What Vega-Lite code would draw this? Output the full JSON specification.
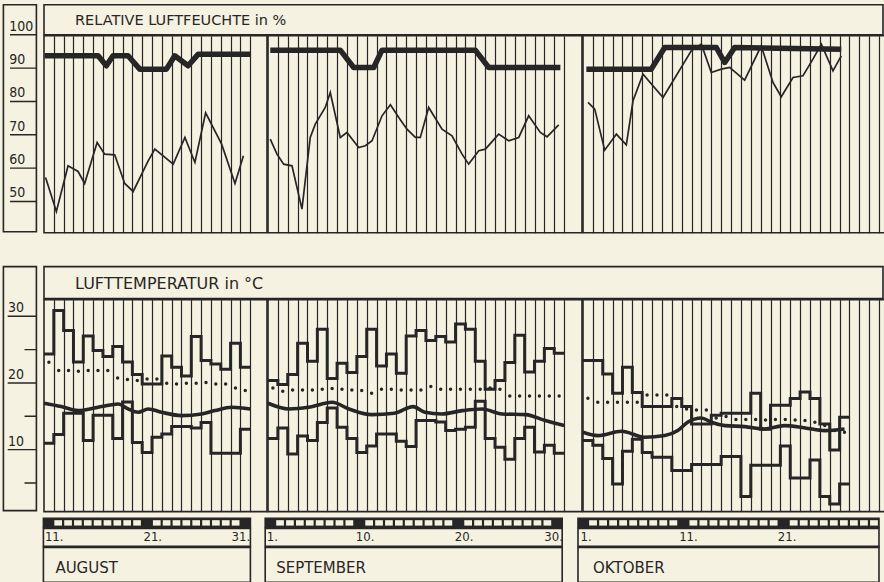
{
 "$schema": "https://vega.github.io/schema/vega-lite/v6.json",
 "background": "#f6f2e1",
 "padding": {"left": 2.4, "top": 3.8, "right": 0, "bottom": 0},
 "config": {
  "view": {"stroke": "#262626", "strokeWidth": 1.6},
  "axis": {"gridOpacity": 1},
  "text": {"color": "#262626"}
 },
 "datasets": {
  "hticks": [{"v":100,"lab":"100"},{"v":90,"lab":"90"},{"v":80,"lab":"80"},{"v":70,"lab":"70"},{"v":60,"lab":"60"},{"v":50,"lab":"50"}],
  "tticks": [{"v":30,"lab":"30","kind":"major"},{"v":25,"lab":"","kind":"minor"},{"v":20,"lab":"20","kind":"major"},{"v":15,"lab":"","kind":"minor"},{"v":10,"lab":"10","kind":"major"},{"v":5,"lab":"","kind":"minor"}],
  "hmean": [
   {"m":"Aug","t":11.06,"rh":94},{"m":"Aug","t":16.51,"rh":94},{"m":"Aug","t":17.35,"rh":91},{"m":"Aug","t":18.03,"rh":94},{"m":"Aug","t":19.56,"rh":94},{"m":"Aug","t":20.75,"rh":90},{"m":"Aug","t":23.47,"rh":90},{"m":"Aug","t":24.32,"rh":94},{"m":"Aug","t":25.68,"rh":91},{"m":"Aug","t":26.71,"rh":94.5},{"m":"Aug","t":31.98,"rh":94.5},
   {"m":"Sep","t":1.23,"rh":95.7},{"m":"Sep","t":8.32,"rh":95.7},{"m":"Sep","t":9.68,"rh":90.5},{"m":"Sep","t":11.71,"rh":90.5},{"m":"Sep","t":12.55,"rh":95.7},{"m":"Sep","t":22.0,"rh":95.7},{"m":"Sep","t":23.36,"rh":90.5},{"m":"Sep","t":30.62,"rh":90.5},
   {"m":"Okt","t":1.34,"rh":90},{"m":"Okt","t":7.92,"rh":90},{"m":"Okt","t":9.28,"rh":96.5},{"m":"Okt","t":14.51,"rh":96.5},{"m":"Okt","t":15.36,"rh":92},{"m":"Okt","t":16.37,"rh":96.5},{"m":"Okt","t":27.17,"rh":96}
  ],
  "hday": [
   {"m":"Aug","t":11.16,"rh":57.5},{"m":"Aug","t":12.26,"rh":47.3},{"m":"Aug","t":13.45,"rh":61},{"m":"Aug","t":14.47,"rh":59.3},{"m":"Aug","t":15.14,"rh":55.7},{"m":"Aug","t":16.41,"rh":68},{"m":"Aug","t":17.18,"rh":64.5},{"m":"Aug","t":18.2,"rh":64.3},{"m":"Aug","t":19.22,"rh":55.7},{"m":"Aug","t":20.08,"rh":53.3},{"m":"Aug","t":21.61,"rh":62.5},{"m":"Aug","t":22.29,"rh":66},{"m":"Aug","t":24.16,"rh":61.5},{"m":"Aug","t":25.35,"rh":69.5},{"m":"Aug","t":26.37,"rh":62},{"m":"Aug","t":27.46,"rh":76.9},{"m":"Aug","t":29.09,"rh":67.5},{"m":"Aug","t":30.45,"rh":55.7},{"m":"Aug","t":31.31,"rh":64},
   {"m":"Sep","t":1.23,"rh":69},{"m":"Sep","t":1.91,"rh":64.5},{"m":"Sep","t":2.59,"rh":61.5},{"m":"Sep","t":3.43,"rh":61},{"m":"Sep","t":4.44,"rh":48},{"m":"Sep","t":5.28,"rh":69.5},{"m":"Sep","t":5.79,"rh":73.5},{"m":"Sep","t":6.8,"rh":78.5},{"m":"Sep","t":7.31,"rh":83},{"m":"Sep","t":8.32,"rh":69.5},{"m":"Sep","t":9.0,"rh":71},{"m":"Sep","t":10.19,"rh":66.5},{"m":"Sep","t":10.86,"rh":67},{"m":"Sep","t":11.54,"rh":68.5},{"m":"Sep","t":12.55,"rh":76},{"m":"Sep","t":13.4,"rh":79.3},{"m":"Sep","t":14.25,"rh":75.5},{"m":"Sep","t":15.08,"rh":72},{"m":"Sep","t":15.93,"rh":69.5},{"m":"Sep","t":16.43,"rh":69.5},{"m":"Sep","t":17.28,"rh":78.5},{"m":"Sep","t":18.63,"rh":72},{"m":"Sep","t":19.64,"rh":70},{"m":"Sep","t":20.66,"rh":64.5},{"m":"Sep","t":21.33,"rh":61.5},{"m":"Sep","t":22.35,"rh":65.5},{"m":"Sep","t":23.02,"rh":66},{"m":"Sep","t":24.37,"rh":70.5},{"m":"Sep","t":25.38,"rh":68.5},{"m":"Sep","t":26.4,"rh":69.5},{"m":"Sep","t":27.41,"rh":76},{"m":"Sep","t":28.59,"rh":71},{"m":"Sep","t":29.27,"rh":69.7},{"m":"Sep","t":30.45,"rh":73.3},
   {"m":"Okt","t":1.51,"rh":80},{"m":"Okt","t":2.19,"rh":78},{"m":"Okt","t":3.2,"rh":65.7},{"m":"Okt","t":4.38,"rh":70.5},{"m":"Okt","t":5.39,"rh":67.3},{"m":"Okt","t":6.07,"rh":80.5},{"m":"Okt","t":7.08,"rh":88.5},{"m":"Okt","t":9.11,"rh":81.5},{"m":"Okt","t":11.97,"rh":95.5},{"m":"Okt","t":12.99,"rh":97.5},{"m":"Okt","t":14.0,"rh":89},{"m":"Okt","t":15.01,"rh":90},{"m":"Okt","t":15.86,"rh":90.5},{"m":"Okt","t":17.38,"rh":86.7},{"m":"Okt","t":19.06,"rh":97},{"m":"Okt","t":20.25,"rh":86},{"m":"Okt","t":21.09,"rh":81.7},{"m":"Okt","t":22.28,"rh":87.5},{"m":"Okt","t":23.29,"rh":88},{"m":"Okt","t":24.3,"rh":93},{"m":"Okt","t":25.15,"rh":97.5},{"m":"Okt","t":26.33,"rh":89.5},{"m":"Okt","t":27.17,"rh":94}
  ],
  "temp": [
   {"m":"Aug","d":11,"hi":24.5,"lo":11.1,"dot":23.25},{"m":"Aug","d":12,"hi":31,"lo":12.4,"dot":22},{"m":"Aug","d":13,"hi":28,"lo":15.6,"dot":22},{"m":"Aug","d":14,"hi":23.3,"lo":15.6,"dot":21.9},{"m":"Aug","d":15,"hi":27.2,"lo":11.5,"dot":22},{"m":"Aug","d":16,"hi":25,"lo":15.3,"dot":22},{"m":"Aug","d":17,"hi":24.1,"lo":15.3,"dot":22},{"m":"Aug","d":18,"hi":25.6,"lo":11.8,"dot":20.9},{"m":"Aug","d":19,"hi":23.3,"lo":17.3,"dot":20.65},{"m":"Aug","d":20,"hi":21.4,"lo":11.2,"dot":20.5},{"m":"Aug","d":21,"hi":20,"lo":9.7,"dot":20.75},{"m":"Aug","d":22,"hi":20,"lo":12,"dot":20.75},{"m":"Aug","d":23,"hi":24.2,"lo":12.5,"dot":20.1},{"m":"Aug","d":24,"hi":22.5,"lo":13.6,"dot":20},{"m":"Aug","d":25,"hi":21.2,"lo":13.6,"dot":20.1},{"m":"Aug","d":26,"hi":27.1,"lo":13.4,"dot":20.1},{"m":"Aug","d":27,"hi":23.5,"lo":14.2,"dot":20.2},{"m":"Aug","d":28,"hi":23,"lo":9.6,"dot":20},{"m":"Aug","d":29,"hi":22.2,"lo":9.6,"dot":20},{"m":"Aug","d":30,"hi":26.1,"lo":9.6,"dot":19.4},{"m":"Aug","d":31,"hi":22.5,"lo":13.2,"dot":19},{"m":"Aug","d":32,"hi":22.5,"lo":13.2,"dot":null},
   {"m":"Sep","d":1,"hi":20.5,"lo":11.8,"dot":19.4},{"m":"Sep","d":2,"hi":19.9,"lo":13.4,"dot":18.9},{"m":"Sep","d":3,"hi":21.4,"lo":9.5,"dot":19.1},{"m":"Sep","d":4,"hi":26.1,"lo":12.2,"dot":19.1},{"m":"Sep","d":5,"hi":23.4,"lo":11.5,"dot":19.1},{"m":"Sep","d":6,"hi":28.2,"lo":14.2,"dot":19.2},{"m":"Sep","d":7,"hi":20.8,"lo":16.4,"dot":19.3},{"m":"Sep","d":8,"hi":23.1,"lo":13.5,"dot":19.2},{"m":"Sep","d":9,"hi":21.7,"lo":11.8,"dot":19.1},{"m":"Sep","d":10,"hi":24.1,"lo":9.7,"dot":19},{"m":"Sep","d":11,"hi":28.2,"lo":10.7,"dot":18.6},{"m":"Sep","d":12,"hi":22.7,"lo":12.5,"dot":19.2},{"m":"Sep","d":13,"hi":24.5,"lo":12.5,"dot":19.2},{"m":"Sep","d":14,"hi":21.6,"lo":11.4,"dot":19.1},{"m":"Sep","d":15,"hi":27.2,"lo":10.6,"dot":19.1},{"m":"Sep","d":16,"hi":28,"lo":14.5,"dot":19.1},{"m":"Sep","d":17,"hi":26.5,"lo":14.5,"dot":19.6},{"m":"Sep","d":18,"hi":27.1,"lo":14.3,"dot":19.2},{"m":"Sep","d":19,"hi":26.3,"lo":13,"dot":19.2},{"m":"Sep","d":20,"hi":29,"lo":13.2,"dot":19.2},{"m":"Sep","d":21,"hi":28.2,"lo":13.5,"dot":19.2},{"m":"Sep","d":22,"hi":23.4,"lo":17.4,"dot":19.2},{"m":"Sep","d":23,"hi":19.2,"lo":11.8,"dot":19.4},{"m":"Sep","d":24,"hi":20.5,"lo":10.5,"dot":19.2},{"m":"Sep","d":25,"hi":23.2,"lo":8.7,"dot":18.2},{"m":"Sep","d":26,"hi":27.3,"lo":11.8,"dot":18.2},{"m":"Sep","d":27,"hi":21.8,"lo":13.5,"dot":18.2},{"m":"Sep","d":28,"hi":23.4,"lo":9.8,"dot":18.2},{"m":"Sep","d":29,"hi":25.3,"lo":10.8,"dot":18.2},{"m":"Sep","d":30,"hi":24.6,"lo":9.6,"dot":18.2},{"m":"Sep","d":31,"hi":24.6,"lo":9.6,"dot":null},
   {"m":"Okt","d":1,"hi":23.5,"lo":11.5,"dot":17.85},{"m":"Okt","d":2,"hi":23.5,"lo":10.8,"dot":17.25},{"m":"Okt","d":3,"hi":21.5,"lo":8.8,"dot":17.25},{"m":"Okt","d":4,"hi":18.6,"lo":5,"dot":17.25},{"m":"Okt","d":5,"hi":22.5,"lo":9.9,"dot":17.25},{"m":"Okt","d":6,"hi":18.7,"lo":11.7,"dot":17.25},{"m":"Okt","d":7,"hi":16.6,"lo":9.7,"dot":18.35},{"m":"Okt","d":8,"hi":16.6,"lo":9,"dot":18.35},{"m":"Okt","d":9,"hi":16.6,"lo":9,"dot":18.35},{"m":"Okt","d":10,"hi":17.8,"lo":7,"dot":16.6},{"m":"Okt","d":11,"hi":16.6,"lo":7,"dot":16.25},{"m":"Okt","d":12,"hi":14,"lo":7.9,"dot":16.1},{"m":"Okt","d":13,"hi":14,"lo":7.9,"dot":16.1},{"m":"Okt","d":14,"hi":15.3,"lo":7.9,"dot":14.9},{"m":"Okt","d":15,"hi":15.6,"lo":9.1,"dot":15.1},{"m":"Okt","d":16,"hi":15.6,"lo":9.1,"dot":14.65},{"m":"Okt","d":17,"hi":15.6,"lo":3.1,"dot":14.65},{"m":"Okt","d":18,"hi":18.6,"lo":7.8,"dot":14.65},{"m":"Okt","d":19,"hi":13.2,"lo":7.8,"dot":14.6},{"m":"Okt","d":20,"hi":16.8,"lo":7.8,"dot":14.65},{"m":"Okt","d":21,"hi":16.8,"lo":10.7,"dot":14.65},{"m":"Okt","d":22,"hi":17.8,"lo":5.9,"dot":14.6},{"m":"Okt","d":23,"hi":18.8,"lo":5.9,"dot":14.5},{"m":"Okt","d":24,"hi":17.8,"lo":8.6,"dot":14.25},{"m":"Okt","d":25,"hi":14,"lo":3.1,"dot":13.75},{"m":"Okt","d":26,"hi":10.1,"lo":2,"dot":13},{"m":"Okt","d":27,"hi":15,"lo":5,"dot":12.75},{"m":"Okt","d":28,"hi":15,"lo":5,"dot":null}
  ],
  "tmean": [
   {"m":"Aug","t":11.0,"T":17.1},{"m":"Aug","t":12.77,"T":16.6},{"m":"Aug","t":14.47,"T":16.0},{"m":"Aug","t":16.85,"T":16.6},{"m":"Aug","t":18.55,"T":17.0},{"m":"Aug","t":19.57,"T":16.25},{"m":"Aug","t":20.59,"T":15.75},{"m":"Aug","t":21.61,"T":16.25},{"m":"Aug","t":22.97,"T":15.75},{"m":"Aug","t":25.01,"T":15.25},{"m":"Aug","t":27.05,"T":15.5},{"m":"Aug","t":28.41,"T":16.0},{"m":"Aug","t":30.11,"T":16.5},{"m":"Aug","t":32.0,"T":16.25},
   {"m":"Sep","t":1.0,"T":17.1},{"m":"Sep","t":3.1,"T":16.25},{"m":"Sep","t":5.1,"T":16.5},{"m":"Sep","t":7.5,"T":17.25},{"m":"Sep","t":9.2,"T":16.25},{"m":"Sep","t":11.5,"T":15.4},{"m":"Sep","t":13.8,"T":15.6},{"m":"Sep","t":15.7,"T":16.6},{"m":"Sep","t":16.9,"T":15.75},{"m":"Sep","t":18.6,"T":15.5},{"m":"Sep","t":20.7,"T":16.0},{"m":"Sep","t":22.7,"T":16.25},{"m":"Sep","t":24.7,"T":15.5},{"m":"Sep","t":27.1,"T":15.4},{"m":"Sep","t":29.1,"T":14.5},{"m":"Sep","t":31.0,"T":13.75},
   {"m":"Okt","t":1.0,"T":12.75},{"m":"Okt","t":2.5,"T":12.25},{"m":"Okt","t":4.9,"T":12.9},{"m":"Okt","t":7.25,"T":12.0},{"m":"Okt","t":9.3,"T":12.25},{"m":"Okt","t":10.6,"T":13.0},{"m":"Okt","t":11.6,"T":14.25},{"m":"Okt","t":13.0,"T":14.9},{"m":"Okt","t":14.0,"T":14.25},{"m":"Okt","t":15.4,"T":13.75},{"m":"Okt","t":17.4,"T":13.6},{"m":"Okt","t":19.4,"T":13.25},{"m":"Okt","t":21.4,"T":13.75},{"m":"Okt","t":23.5,"T":13.4},{"m":"Okt","t":25.5,"T":13.0},{"m":"Okt","t":27.5,"T":13.25}
  ],
  "days": [
   {"m":"Aug","d":11,"k":"d"},{"m":"Aug","d":12,"k":"n"},{"m":"Aug","d":13,"k":"n"},{"m":"Aug","d":14,"k":"n"},{"m":"Aug","d":15,"k":"n"},{"m":"Aug","d":16,"k":"n"},{"m":"Aug","d":17,"k":"n"},{"m":"Aug","d":18,"k":"n"},{"m":"Aug","d":19,"k":"n"},{"m":"Aug","d":20,"k":"n"},{"m":"Aug","d":21,"k":"d"},{"m":"Aug","d":22,"k":"n"},{"m":"Aug","d":23,"k":"n"},{"m":"Aug","d":24,"k":"n"},{"m":"Aug","d":25,"k":"n"},{"m":"Aug","d":26,"k":"n"},{"m":"Aug","d":27,"k":"n"},{"m":"Aug","d":28,"k":"n"},{"m":"Aug","d":29,"k":"n"},{"m":"Aug","d":30,"k":"n"},{"m":"Aug","d":31,"k":"d"},
   {"m":"Sep","d":1,"k":"d"},{"m":"Sep","d":2,"k":"n"},{"m":"Sep","d":3,"k":"n"},{"m":"Sep","d":4,"k":"n"},{"m":"Sep","d":5,"k":"n"},{"m":"Sep","d":6,"k":"n"},{"m":"Sep","d":7,"k":"n"},{"m":"Sep","d":8,"k":"n"},{"m":"Sep","d":9,"k":"n"},{"m":"Sep","d":10,"k":"d"},{"m":"Sep","d":11,"k":"n"},{"m":"Sep","d":12,"k":"n"},{"m":"Sep","d":13,"k":"n"},{"m":"Sep","d":14,"k":"n"},{"m":"Sep","d":15,"k":"n"},{"m":"Sep","d":16,"k":"n"},{"m":"Sep","d":17,"k":"n"},{"m":"Sep","d":18,"k":"n"},{"m":"Sep","d":19,"k":"n"},{"m":"Sep","d":20,"k":"d"},{"m":"Sep","d":21,"k":"n"},{"m":"Sep","d":22,"k":"n"},{"m":"Sep","d":23,"k":"n"},{"m":"Sep","d":24,"k":"n"},{"m":"Sep","d":25,"k":"n"},{"m":"Sep","d":26,"k":"n"},{"m":"Sep","d":27,"k":"n"},{"m":"Sep","d":28,"k":"n"},{"m":"Sep","d":29,"k":"n"},{"m":"Sep","d":30,"k":"d"},
   {"m":"Okt","d":1,"k":"d"},{"m":"Okt","d":2,"k":"n"},{"m":"Okt","d":3,"k":"n"},{"m":"Okt","d":4,"k":"n"},{"m":"Okt","d":5,"k":"n"},{"m":"Okt","d":6,"k":"n"},{"m":"Okt","d":7,"k":"n"},{"m":"Okt","d":8,"k":"n"},{"m":"Okt","d":9,"k":"n"},{"m":"Okt","d":10,"k":"n"},{"m":"Okt","d":11,"k":"d"},{"m":"Okt","d":12,"k":"n"},{"m":"Okt","d":13,"k":"n"},{"m":"Okt","d":14,"k":"n"},{"m":"Okt","d":15,"k":"n"},{"m":"Okt","d":16,"k":"n"},{"m":"Okt","d":17,"k":"n"},{"m":"Okt","d":18,"k":"n"},{"m":"Okt","d":19,"k":"n"},{"m":"Okt","d":20,"k":"n"},{"m":"Okt","d":21,"k":"d"},{"m":"Okt","d":22,"k":"n"},{"m":"Okt","d":23,"k":"n"},{"m":"Okt","d":24,"k":"n"},{"m":"Okt","d":25,"k":"n"},{"m":"Okt","d":26,"k":"n"},{"m":"Okt","d":27,"k":"n"},{"m":"Okt","d":28,"k":"n"},{"m":"Okt","d":29,"k":"n"},{"m":"Okt","d":30,"k":"n"}
  ],
  "dlab": [
   {"m":"Aug","d":11,"lab":"11.","last":false},{"m":"Aug","d":21,"lab":"21.","last":false},{"m":"Aug","d":31,"lab":"31.","last":true},
   {"m":"Sep","d":1,"lab":"1.","last":false},{"m":"Sep","d":10,"lab":"10.","last":false},{"m":"Sep","d":20,"lab":"20.","last":false},{"m":"Sep","d":30,"lab":"30.","last":true},
   {"m":"Okt","d":1,"lab":"1.","last":false},{"m":"Okt","d":11,"lab":"11.","last":false},{"m":"Okt","d":21,"lab":"21.","last":false}
  ]
 },
 "spacing": 31.8,
 "resolve": {"scale": {"x": "independent", "y": "independent", "color": "independent"}},
 "vconcat": [
  {
   "spacing": 5.6,
   "resolve": {"scale": {"x": "independent", "y": "independent"}},
   "hconcat": [
    {
     "width": 33, "height": 227,
     "data": {"name": "hticks"},
     "layer": [
      {"mark": {"type": "rule", "color": "#262626", "strokeWidth": 1.4, "clip": true},
       "encoding": {
        "y": {"field": "v", "type": "quantitative", "scale": {"domain": [40.9, 109], "nice": false, "zero": false}, "axis": null},
        "x": {"datum": 0.2, "type": "quantitative", "scale": {"domain": [0, 1], "nice": false, "zero": false}, "axis": null},
        "x2": {"datum": 1}}},
      {"mark": {"type": "text", "align": "left", "baseline": "bottom", "dy": -1, "font": "Liberation Sans Narrow, DejaVu Sans Condensed, sans-serif", "fontSize": 14},
       "encoding": {
        "y": {"field": "v", "type": "quantitative", "axis": null},
        "x": {"datum": 0.18, "type": "quantitative", "axis": null},
        "text": {"field": "lab"}}}
     ]
    },
    {
     "spacing": -3.2,
     "resolve": {"scale": {"x": "independent", "y": "independent"}},
     "vconcat": [
      {
       "width": 839, "height": 30,
       "data": {"values": [{"s": "RELATIVE LUFTFEUCHTE in %"}]},
       "mark": {"type": "text", "align": "left", "baseline": "middle", "font": "DejaVu Sans", "fontSize": 14.5},
       "encoding": {
        "text": {"field": "s"},
        "x": {"datum": 0.037, "type": "quantitative", "scale": {"domain": [0, 1], "nice": false, "zero": false}, "axis": null},
        "y": {"datum": 0.47, "type": "quantitative", "scale": {"domain": [0, 1], "nice": false, "zero": false}, "axis": null}}
      },
      {
       "spacing": -3.2,
       "resolve": {"scale": {"x": "independent", "y": "independent"}},
       "hconcat": [
        {
         "width": 223, "height": 197,
         "layer": [
          {"data": {"name": "hmean"}, "transform": [{"filter": "datum.m == 'Aug'"}],
           "mark": {"type": "line", "color": "#262626", "strokeWidth": 5.5, "strokeJoin": "round", "clip": true},
           "encoding": {
            "x": {"field": "t", "type": "quantitative", "scale": {"domain": [11, 33.71], "nice": false, "zero": false}, "axis": {"values": [12,13,14,15,16,17,18,19,20,21,22,23,24,25,26,27,28,29,30,31,32], "grid": true, "gridColor": "#262626", "gridWidth": 1.2, "labels": false, "ticks": false, "domain": false, "title": null}},
            "y": {"field": "rh", "type": "quantitative", "scale": {"domain": [40.9, 100], "nice": false, "zero": false}, "axis": null}}},
          {"data": {"name": "hday"}, "transform": [{"filter": "datum.m == 'Aug'"}],
           "mark": {"type": "line", "color": "#262626", "strokeWidth": 1.7, "clip": true},
           "encoding": {
            "x": {"field": "t", "type": "quantitative", "axis": {"values": [12,13,14,15,16,17,18,19,20,21,22,23,24,25,26,27,28,29,30,31,32], "grid": true, "gridColor": "#262626", "gridWidth": 1.2, "labels": false, "ticks": false, "domain": false, "title": null}},
            "y": {"field": "rh", "type": "quantitative", "axis": null}}}
         ]
        },
        {
         "width": 314, "height": 197,
         "layer": [
          {"data": {"name": "hmean"}, "transform": [{"filter": "datum.m == 'Sep'"}],
           "mark": {"type": "line", "color": "#262626", "strokeWidth": 5.5, "strokeJoin": "round", "clip": true},
           "encoding": {
            "x": {"field": "t", "type": "quantitative", "scale": {"domain": [1, 32.81], "nice": false, "zero": false}, "axis": {"values": [2,3,4,5,6,7,8,9,10,11,12,13,14,15,16,17,18,19,20,21,22,23,24,25,26,27,28,29,30,31], "grid": true, "gridColor": "#262626", "gridWidth": 1.2, "labels": false, "ticks": false, "domain": false, "title": null}},
            "y": {"field": "rh", "type": "quantitative", "scale": {"domain": [40.9, 100], "nice": false, "zero": false}, "axis": null}}},
          {"data": {"name": "hday"}, "transform": [{"filter": "datum.m == 'Sep'"}],
           "mark": {"type": "line", "color": "#262626", "strokeWidth": 1.7, "clip": true},
           "encoding": {
            "x": {"field": "t", "type": "quantitative", "axis": {"values": [2,3,4,5,6,7,8,9,10,11,12,13,14,15,16,17,18,19,20,21,22,23,24,25,26,27,28,29,30,31], "grid": true, "gridColor": "#262626", "gridWidth": 1.2, "labels": false, "ticks": false, "domain": false, "title": null}},
            "y": {"field": "rh", "type": "quantitative", "axis": null}}}
         ]
        },
        {
         "width": 302, "height": 197,
         "layer": [
          {"data": {"name": "hmean"}, "transform": [{"filter": "datum.m == 'Okt'"}],
           "mark": {"type": "line", "color": "#262626", "strokeWidth": 5.5, "strokeJoin": "round", "clip": true},
           "encoding": {
            "x": {"field": "t", "type": "quantitative", "scale": {"domain": [1, 31.6], "nice": false, "zero": false}, "axis": {"values": [2,3,4,5,6,7,8,9,10,11,12,13,14,15,16,17,18,19,20,21,22,23,24,25,26,27,28,29,30,31], "grid": true, "gridColor": "#262626", "gridWidth": 1.2, "labels": false, "ticks": false, "domain": false, "title": null}},
            "y": {"field": "rh", "type": "quantitative", "scale": {"domain": [40.9, 100], "nice": false, "zero": false}, "axis": null}}},
          {"data": {"name": "hday"}, "transform": [{"filter": "datum.m == 'Okt'"}],
           "mark": {"type": "line", "color": "#262626", "strokeWidth": 1.7, "clip": true},
           "encoding": {
            "x": {"field": "t", "type": "quantitative", "axis": {"values": [2,3,4,5,6,7,8,9,10,11,12,13,14,15,16,17,18,19,20,21,22,23,24,25,26,27,28,29,30,31], "grid": true, "gridColor": "#262626", "gridWidth": 1.2, "labels": false, "ticks": false, "domain": false, "title": null}},
            "y": {"field": "rh", "type": "quantitative", "axis": null}}}
         ]
        }
       ]
      }
     ]
    }
   ]
  },
  {
   "spacing": 4.8,
   "resolve": {"scale": {"x": "independent", "y": "independent", "color": "independent"}},
   "vconcat": [
    {
     "spacing": 5.6,
     "resolve": {"scale": {"x": "independent", "y": "independent"}},
     "hconcat": [
      {
       "width": 33, "height": 244,
       "data": {"name": "tticks"},
       "layer": [
        {"transform": [{"filter": "datum.kind == 'major'"}],
         "mark": {"type": "rule", "color": "#262626", "strokeWidth": 1.4, "clip": true},
         "encoding": {
          "y": {"field": "v", "type": "quantitative", "scale": {"domain": [0.85, 37.45], "nice": false, "zero": false}, "axis": null},
          "x": {"datum": 0.13, "type": "quantitative", "scale": {"domain": [0, 1], "nice": false, "zero": false}, "axis": null},
          "x2": {"datum": 1}}},
        {"transform": [{"filter": "datum.kind == 'minor'"}],
         "mark": {"type": "rule", "color": "#262626", "strokeWidth": 1.4, "clip": true},
         "encoding": {
          "y": {"field": "v", "type": "quantitative", "axis": null},
          "x": {"datum": 0.64, "type": "quantitative", "axis": null},
          "x2": {"datum": 1}}},
        {"transform": [{"filter": "datum.kind == 'major'"}],
         "mark": {"type": "text", "align": "left", "baseline": "bottom", "dy": -1, "font": "Liberation Sans Narrow, DejaVu Sans Condensed, sans-serif", "fontSize": 14},
         "encoding": {
          "y": {"field": "v", "type": "quantitative", "axis": null},
          "x": {"datum": 0.14, "type": "quantitative", "axis": null},
          "text": {"field": "lab"}}}
       ]
      },
      {
       "spacing": -3.2,
       "resolve": {"scale": {"x": "independent", "y": "independent"}},
       "vconcat": [
        {
         "width": 839, "height": 32,
         "data": {"values": [{"s": "LUFTTEMPERATUR in °C"}]},
         "mark": {"type": "text", "align": "left", "baseline": "middle", "font": "DejaVu Sans", "fontSize": 16},
         "encoding": {
          "text": {"field": "s"},
          "x": {"datum": 0.037, "type": "quantitative", "scale": {"domain": [0, 1], "nice": false, "zero": false}, "axis": null},
          "y": {"datum": 0.45, "type": "quantitative", "scale": {"domain": [0, 1], "nice": false, "zero": false}, "axis": null}}
        },
        {
         "spacing": -3.2,
         "resolve": {"scale": {"x": "independent", "y": "independent"}},
         "hconcat": [
          {
           "width": 223, "height": 212,
           "layer": [
            {"data": {"name": "temp"}, "transform": [{"filter": "datum.m == 'Aug'"}],
             "mark": {"type": "line", "color": "#262626", "strokeWidth": 3, "interpolate": "step-after", "clip": true},
             "encoding": {
              "x": {"field": "d", "type": "quantitative", "scale": {"domain": [11, 33.71], "nice": false, "zero": false}, "axis": {"values": [12,13,14,15,16,17,18,19,20,21,22,23,24,25,26,27,28,29,30,31,32], "grid": true, "gridColor": "#262626", "gridWidth": 1.2, "labels": false, "ticks": false, "domain": false, "title": null}},
              "y": {"field": "hi", "type": "quantitative", "scale": {"domain": [0.85, 32.65], "nice": false, "zero": false}, "axis": null}}},
            {"data": {"name": "temp"}, "transform": [{"filter": "datum.m == 'Aug'"}],
             "mark": {"type": "line", "color": "#262626", "strokeWidth": 3, "interpolate": "step-after", "clip": true},
             "encoding": {"x": {"field": "d", "type": "quantitative", "axis": {"values": [12,13,14,15,16,17,18,19,20,21,22,23,24,25,26,27,28,29,30,31,32], "grid": true, "gridColor": "#262626", "gridWidth": 1.2, "labels": false, "ticks": false, "domain": false, "title": null}}, "y": {"field": "lo", "type": "quantitative", "axis": null}}},
            {"data": {"name": "tmean"}, "transform": [{"filter": "datum.m == 'Aug'"}],
             "mark": {"type": "line", "color": "#262626", "strokeWidth": 3.6, "interpolate": "monotone", "clip": true},
             "encoding": {"x": {"field": "t", "type": "quantitative", "axis": {"values": [12,13,14,15,16,17,18,19,20,21,22,23,24,25,26,27,28,29,30,31,32], "grid": true, "gridColor": "#262626", "gridWidth": 1.2, "labels": false, "ticks": false, "domain": false, "title": null}}, "y": {"field": "T", "type": "quantitative", "axis": null}}},
            {"data": {"name": "temp"}, "transform": [{"filter": "datum.m == 'Aug'"}],
             "mark": {"type": "circle", "color": "#262626", "size": 12, "opacity": 1, "xOffset": 4.9, "clip": true},
             "encoding": {"x": {"field": "d", "type": "quantitative", "axis": {"values": [12,13,14,15,16,17,18,19,20,21,22,23,24,25,26,27,28,29,30,31,32], "grid": true, "gridColor": "#262626", "gridWidth": 1.2, "labels": false, "ticks": false, "domain": false, "title": null}}, "y": {"field": "dot", "type": "quantitative", "axis": null}}}
           ]
          },
          {
           "width": 314, "height": 212,
           "layer": [
            {"data": {"name": "temp"}, "transform": [{"filter": "datum.m == 'Sep'"}],
             "mark": {"type": "line", "color": "#262626", "strokeWidth": 3, "interpolate": "step-after", "clip": true},
             "encoding": {
              "x": {"field": "d", "type": "quantitative", "scale": {"domain": [1, 32.81], "nice": false, "zero": false}, "axis": {"values": [2,3,4,5,6,7,8,9,10,11,12,13,14,15,16,17,18,19,20,21,22,23,24,25,26,27,28,29,30,31], "grid": true, "gridColor": "#262626", "gridWidth": 1.2, "labels": false, "ticks": false, "domain": false, "title": null}},
              "y": {"field": "hi", "type": "quantitative", "scale": {"domain": [0.85, 32.65], "nice": false, "zero": false}, "axis": null}}},
            {"data": {"name": "temp"}, "transform": [{"filter": "datum.m == 'Sep'"}],
             "mark": {"type": "line", "color": "#262626", "strokeWidth": 3, "interpolate": "step-after", "clip": true},
             "encoding": {"x": {"field": "d", "type": "quantitative", "axis": {"values": [2,3,4,5,6,7,8,9,10,11,12,13,14,15,16,17,18,19,20,21,22,23,24,25,26,27,28,29,30,31], "grid": true, "gridColor": "#262626", "gridWidth": 1.2, "labels": false, "ticks": false, "domain": false, "title": null}}, "y": {"field": "lo", "type": "quantitative", "axis": null}}},
            {"data": {"name": "tmean"}, "transform": [{"filter": "datum.m == 'Sep'"}],
             "mark": {"type": "line", "color": "#262626", "strokeWidth": 3.6, "interpolate": "monotone", "clip": true},
             "encoding": {"x": {"field": "t", "type": "quantitative", "axis": {"values": [2,3,4,5,6,7,8,9,10,11,12,13,14,15,16,17,18,19,20,21,22,23,24,25,26,27,28,29,30,31], "grid": true, "gridColor": "#262626", "gridWidth": 1.2, "labels": false, "ticks": false, "domain": false, "title": null}}, "y": {"field": "T", "type": "quantitative", "axis": null}}},
            {"data": {"name": "temp"}, "transform": [{"filter": "datum.m == 'Sep'"}],
             "mark": {"type": "circle", "color": "#262626", "size": 12, "opacity": 1, "xOffset": 4.9, "clip": true},
             "encoding": {"x": {"field": "d", "type": "quantitative", "axis": {"values": [2,3,4,5,6,7,8,9,10,11,12,13,14,15,16,17,18,19,20,21,22,23,24,25,26,27,28,29,30,31], "grid": true, "gridColor": "#262626", "gridWidth": 1.2, "labels": false, "ticks": false, "domain": false, "title": null}}, "y": {"field": "dot", "type": "quantitative", "axis": null}}}
           ]
          },
          {
           "width": 302, "height": 212,
           "layer": [
            {"data": {"name": "temp"}, "transform": [{"filter": "datum.m == 'Okt'"}],
             "mark": {"type": "line", "color": "#262626", "strokeWidth": 3, "interpolate": "step-after", "clip": true},
             "encoding": {
              "x": {"field": "d", "type": "quantitative", "scale": {"domain": [1, 31.6], "nice": false, "zero": false}, "axis": {"values": [2,3,4,5,6,7,8,9,10,11,12,13,14,15,16,17,18,19,20,21,22,23,24,25,26,27,28,29,30,31], "grid": true, "gridColor": "#262626", "gridWidth": 1.2, "labels": false, "ticks": false, "domain": false, "title": null}},
              "y": {"field": "hi", "type": "quantitative", "scale": {"domain": [0.85, 32.65], "nice": false, "zero": false}, "axis": null}}},
            {"data": {"name": "temp"}, "transform": [{"filter": "datum.m == 'Okt'"}],
             "mark": {"type": "line", "color": "#262626", "strokeWidth": 3, "interpolate": "step-after", "clip": true},
             "encoding": {"x": {"field": "d", "type": "quantitative", "axis": {"values": [2,3,4,5,6,7,8,9,10,11,12,13,14,15,16,17,18,19,20,21,22,23,24,25,26,27,28,29,30,31], "grid": true, "gridColor": "#262626", "gridWidth": 1.2, "labels": false, "ticks": false, "domain": false, "title": null}}, "y": {"field": "lo", "type": "quantitative", "axis": null}}},
            {"data": {"name": "tmean"}, "transform": [{"filter": "datum.m == 'Okt'"}],
             "mark": {"type": "line", "color": "#262626", "strokeWidth": 3.6, "interpolate": "monotone", "clip": true},
             "encoding": {"x": {"field": "t", "type": "quantitative", "axis": {"values": [2,3,4,5,6,7,8,9,10,11,12,13,14,15,16,17,18,19,20,21,22,23,24,25,26,27,28,29,30,31], "grid": true, "gridColor": "#262626", "gridWidth": 1.2, "labels": false, "ticks": false, "domain": false, "title": null}}, "y": {"field": "T", "type": "quantitative", "axis": null}}},
            {"data": {"name": "temp"}, "transform": [{"filter": "datum.m == 'Okt'"}],
             "mark": {"type": "circle", "color": "#262626", "size": 12, "opacity": 1, "xOffset": 4.9, "clip": true},
             "encoding": {"x": {"field": "d", "type": "quantitative", "axis": {"values": [2,3,4,5,6,7,8,9,10,11,12,13,14,15,16,17,18,19,20,21,22,23,24,25,26,27,28,29,30,31], "grid": true, "gridColor": "#262626", "gridWidth": 1.2, "labels": false, "ticks": false, "domain": false, "title": null}}, "y": {"field": "dot", "type": "quantitative", "axis": null}}}
           ]
          }
         ]
        }
       ]
      }
     ]
    },
    {
     "spacing": 6,
     "resolve": {"scale": {"x": "independent", "y": "independent", "color": "independent"}},
     "hconcat": [
      {
       "width": 33, "height": 62,
       "view": {"stroke": null},
       "data": {"values": [{"s": ""}]},
       "mark": {"type": "text"},
       "encoding": {"text": {"field": "s"}}
      },
      {
       "spacing": 12.8,
       "resolve": {"scale": {"x": "independent", "y": "independent", "color": "independent"}},
       "hconcat": [
        {
         "spacing": -3.2,
         "resolve": {"scale": {"x": "independent", "y": "independent", "color": "independent"}},
         "vconcat": [
          {"width": 207, "height": 9, "view": {"fill": "#262626"},
           "data": {"name": "days"}, "transform": [{"filter": "datum.m == 'Aug'"}],
           "mark": {"type": "bar"},
           "encoding": {
            "x": {"field": "d", "type": "ordinal", "scale": {"paddingInner": 0.22, "paddingOuter": 0.11}, "axis": null},
            "y": {"datum": 0.2, "type": "quantitative", "scale": {"domain": [0, 1], "nice": false, "zero": false}, "axis": null},
            "y2": {"datum": 0.8},
            "color": {"field": "k", "type": "nominal", "scale": {"domain": ["n", "d"], "range": ["#f6f2e1", "#262626"]}, "legend": null}}},
          {"width": 207, "height": 18,
           "data": {"name": "dlab"},
           "layer": [
            {"transform": [{"filter": "datum.m == 'Aug' && !datum.last"}],
             "mark": {"type": "text", "align": "left", "baseline": "middle", "dx": 1.5, "font": "Liberation Sans Narrow, DejaVu Sans Condensed, sans-serif", "fontSize": 13},
             "encoding": {
              "x": {"field": "d", "type": "quantitative", "scale": {"domain": [11, 32], "nice": false, "zero": false}, "axis": null},
              "y": {"datum": 0.5, "type": "quantitative", "scale": {"domain": [0, 1], "nice": false, "zero": false}, "axis": null},
              "text": {"field": "lab"}}},
            {"transform": [{"filter": "datum.m == 'Aug' && datum.last"}],
             "mark": {"type": "text", "align": "left", "baseline": "middle", "dx": -9, "font": "Liberation Sans Narrow, DejaVu Sans Condensed, sans-serif", "fontSize": 13},
             "encoding": {
              "x": {"field": "d", "type": "quantitative", "axis": null},
              "y": {"datum": 0.5, "type": "quantitative", "axis": null},
              "text": {"field": "lab"}}}
           ]},
          {"width": 207, "height": 35,
           "data": {"values": [{"s": "AUGUST"}]},
           "mark": {"type": "text", "align": "left", "baseline": "middle", "font": "DejaVu Sans", "fontSize": 15},
           "encoding": {
            "text": {"field": "s"},
            "x": {"datum": 0.058, "type": "quantitative", "scale": {"domain": [0, 1], "nice": false, "zero": false}, "axis": null},
            "y": {"datum": 0.4, "type": "quantitative", "scale": {"domain": [0, 1], "nice": false, "zero": false}, "axis": null}}}
         ]
        },
        {
         "spacing": -3.2,
         "resolve": {"scale": {"x": "independent", "y": "independent", "color": "independent"}},
         "vconcat": [
          {"width": 297, "height": 9, "view": {"fill": "#262626"},
           "data": {"name": "days"}, "transform": [{"filter": "datum.m == 'Sep'"}],
           "mark": {"type": "bar"},
           "encoding": {
            "x": {"field": "d", "type": "ordinal", "scale": {"paddingInner": 0.22, "paddingOuter": 0.11}, "axis": null},
            "y": {"datum": 0.2, "type": "quantitative", "scale": {"domain": [0, 1], "nice": false, "zero": false}, "axis": null},
            "y2": {"datum": 0.8},
            "color": {"field": "k", "type": "nominal", "scale": {"domain": ["n", "d"], "range": ["#f6f2e1", "#262626"]}, "legend": null}}},
          {"width": 297, "height": 18,
           "data": {"name": "dlab"},
           "layer": [
            {"transform": [{"filter": "datum.m == 'Sep' && !datum.last"}],
             "mark": {"type": "text", "align": "left", "baseline": "middle", "dx": 1.5, "font": "Liberation Sans Narrow, DejaVu Sans Condensed, sans-serif", "fontSize": 13},
             "encoding": {
              "x": {"field": "d", "type": "quantitative", "scale": {"domain": [1, 31], "nice": false, "zero": false}, "axis": null},
              "y": {"datum": 0.5, "type": "quantitative", "scale": {"domain": [0, 1], "nice": false, "zero": false}, "axis": null},
              "text": {"field": "lab"}}},
            {"transform": [{"filter": "datum.m == 'Sep' && datum.last"}],
             "mark": {"type": "text", "align": "left", "baseline": "middle", "dx": -8, "font": "Liberation Sans Narrow, DejaVu Sans Condensed, sans-serif", "fontSize": 13},
             "encoding": {
              "x": {"field": "d", "type": "quantitative", "axis": null},
              "y": {"datum": 0.5, "type": "quantitative", "axis": null},
              "text": {"field": "lab"}}}
           ]},
          {"width": 297, "height": 35,
           "data": {"values": [{"s": "SEPTEMBER"}]},
           "mark": {"type": "text", "align": "left", "baseline": "middle", "font": "DejaVu Sans", "fontSize": 15},
           "encoding": {
            "text": {"field": "s"},
            "x": {"datum": 0.037, "type": "quantitative", "scale": {"domain": [0, 1], "nice": false, "zero": false}, "axis": null},
            "y": {"datum": 0.4, "type": "quantitative", "scale": {"domain": [0, 1], "nice": false, "zero": false}, "axis": null}}}
         ]
        },
        {
         "spacing": -3.2,
         "resolve": {"scale": {"x": "independent", "y": "independent", "color": "independent"}},
         "vconcat": [
          {"width": 301, "height": 9, "view": {"fill": "#262626"},
           "data": {"name": "days"}, "transform": [{"filter": "datum.m == 'Okt'"}],
           "mark": {"type": "bar"},
           "encoding": {
            "x": {"field": "d", "type": "ordinal", "scale": {"paddingInner": 0.22, "paddingOuter": 0.11}, "axis": null},
            "y": {"datum": 0.2, "type": "quantitative", "scale": {"domain": [0, 1], "nice": false, "zero": false}, "axis": null},
            "y2": {"datum": 0.8},
            "color": {"field": "k", "type": "nominal", "scale": {"domain": ["n", "d"], "range": ["#f6f2e1", "#262626"]}, "legend": null}}},
          {"width": 301, "height": 18,
           "data": {"name": "dlab"},
           "layer": [
            {"transform": [{"filter": "datum.m == 'Okt'"}],
             "mark": {"type": "text", "align": "left", "baseline": "middle", "dx": 1.5, "font": "Liberation Sans Narrow, DejaVu Sans Condensed, sans-serif", "fontSize": 13},
             "encoding": {
              "x": {"field": "d", "type": "quantitative", "scale": {"domain": [0.9, 31.4], "nice": false, "zero": false}, "axis": null},
              "y": {"datum": 0.5, "type": "quantitative", "scale": {"domain": [0, 1], "nice": false, "zero": false}, "axis": null},
              "text": {"field": "lab"}}}
           ]},
          {"width": 301, "height": 35,
           "data": {"values": [{"s": "OKTOBER"}]},
           "mark": {"type": "text", "align": "left", "baseline": "middle", "font": "DejaVu Sans", "fontSize": 15},
           "encoding": {
            "text": {"field": "s"},
            "x": {"datum": 0.05, "type": "quantitative", "scale": {"domain": [0, 1], "nice": false, "zero": false}, "axis": null},
            "y": {"datum": 0.4, "type": "quantitative", "scale": {"domain": [0, 1], "nice": false, "zero": false}, "axis": null}}}
         ]
        }
       ]
      }
     ]
    }
   ]
  }
 ]
}
